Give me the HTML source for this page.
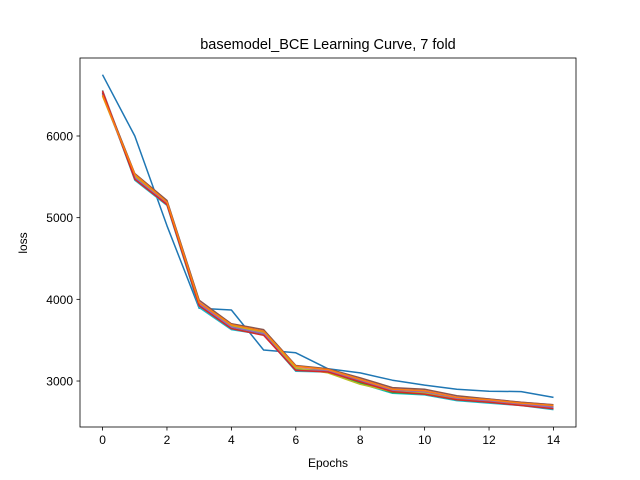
<!DOCTYPE html>
<html><head><meta charset="utf-8"><style>
body{margin:0;background:#fff;}
svg{display:block;font-family:"Liberation Sans","DejaVu Sans",sans-serif;}
</style></head><body>
<svg id="chart" width="640" height="480">
<rect width="640" height="480" fill="#fff"/>
<text x="328" y="49" font-size="14.5" text-anchor="middle">basemodel_BCE Learning Curve, 7 fold</text>
<g id="plot"></g>
<g id="axes"></g>
<text x="328" y="467" font-size="12" text-anchor="middle">Epochs</text>
<text x="27" y="243" font-size="12" text-anchor="middle" transform="rotate(-90 27 243)">loss</text>
</svg>
<script>
const epochs=[0,1,2,3,4,5,6,7,8,9,10,11,12,13,14];
const xTicks=[0,2,4,6,8,10,12,14];
const yTicks=[3000,4000,5000,6000];
const fold1=[6750,6000,4900,3890,3870,3380,3345,3150,3100,3010,2950,2900,2875,2870,2800];
const fold2=[6540,5460,5150,3900,3630,3570,3120,3110,2970,2850,2830,2760,2730,2700,2650];
const fold3=[6520,5480,5170,3930,3650,3580,3140,3120,2980,2860,2840,2770,2740,2710,2670];
const fold4=[6560,5500,5190,3950,3670,3600,3150,3130,3000,2880,2860,2790,2750,2720,2690];
const fold5=[6540,5520,5200,3980,3700,3620,3170,3140,3030,2910,2890,2810,2780,2740,2710];
const fold6=[6530,5540,5210,3990,3700,3630,3190,3150,3040,2920,2900,2820,2780,2740,2710];
const fold7=[6490,5510,5180,3960,3680,3590,3160,3100,2960,2870,2850,2780,2740,2710,2680];
const fold8=[6510,5490,5170,3940,3660,3580,3130,3120,3010,2890,2870,2790,2760,2720,2680];
const fold9=[6550,5470,5160,3920,3640,3560,3130,3110,2990,2870,2840,2770,2740,2700,2660];
const fold10=[6500,5530,5190,3960,3690,3610,3180,3140,3020,2900,2880,2800,2770,2730,2700];
const series=[fold1,fold2,fold3,fold4,fold5,fold6,fold7,fold8,fold9,fold10];
const colors=["#1f77b4","#17becf","#2ca02c","#7f7f7f","#e377c2","#8c564b","#bcbd22","#9467bd","#d62728","#ff7f0e"];
const L=80,R=576,T=58,B=427;
const xMin=-0.7,xMax=14.7,yMin=2437,yMax=6955;
function xs(v){return L+(v-xMin)/(xMax-xMin)*(R-L);}
function ys(v){return B-(v-yMin)/(yMax-yMin)*(B-T);}
const NS="http://www.w3.org/2000/svg";
const plot=document.getElementById('plot');
const axes=document.getElementById('axes');
series.forEach((s,i)=>{
  const p=document.createElementNS(NS,'polyline');
  p.setAttribute('points',s.map((v,j)=>xs(epochs[j]).toFixed(1)+','+ys(v).toFixed(1)).join(' '));
  p.setAttribute('fill','none');
  p.setAttribute('stroke',colors[i]);
  p.setAttribute('stroke-width','1.5');
  p.setAttribute('stroke-linejoin','round');
  
  
  plot.appendChild(p);
});
const frame=document.createElementNS(NS,'rect');
frame.setAttribute('x',L);frame.setAttribute('y',T);frame.setAttribute('width',R-L);frame.setAttribute('height',B-T);
frame.setAttribute('fill','none');frame.setAttribute('stroke','#000');frame.setAttribute('stroke-width','0.8');


axes.appendChild(frame);
xTicks.forEach(t=>{
  const x=xs(t);
  const l=document.createElementNS(NS,'line');
  l.setAttribute('x1',x);l.setAttribute('x2',x);l.setAttribute('y1',B);l.setAttribute('y2',B+3.5);
  l.setAttribute('stroke','#000');l.setAttribute('stroke-width','0.8');
  
  
  axes.appendChild(l);
  const tx=document.createElementNS(NS,'text');
  tx.setAttribute('x',x);tx.setAttribute('y',B+17);tx.setAttribute('font-size','12');tx.setAttribute('text-anchor','middle');
  tx.textContent=t;
  
  
  axes.appendChild(tx);
});
yTicks.forEach(t=>{
  const y=ys(t);
  const l=document.createElementNS(NS,'line');
  l.setAttribute('x1',L-3.5);l.setAttribute('x2',L);l.setAttribute('y1',y);l.setAttribute('y2',y);
  l.setAttribute('stroke','#000');l.setAttribute('stroke-width','0.8');
  
  
  axes.appendChild(l);
  const tx=document.createElementNS(NS,'text');
  tx.setAttribute('x',L-7);tx.setAttribute('y',y+4.5);tx.setAttribute('font-size','12');tx.setAttribute('text-anchor','end');
  tx.textContent=t;
  
  
  axes.appendChild(tx);
});
</script>
</body></html>
